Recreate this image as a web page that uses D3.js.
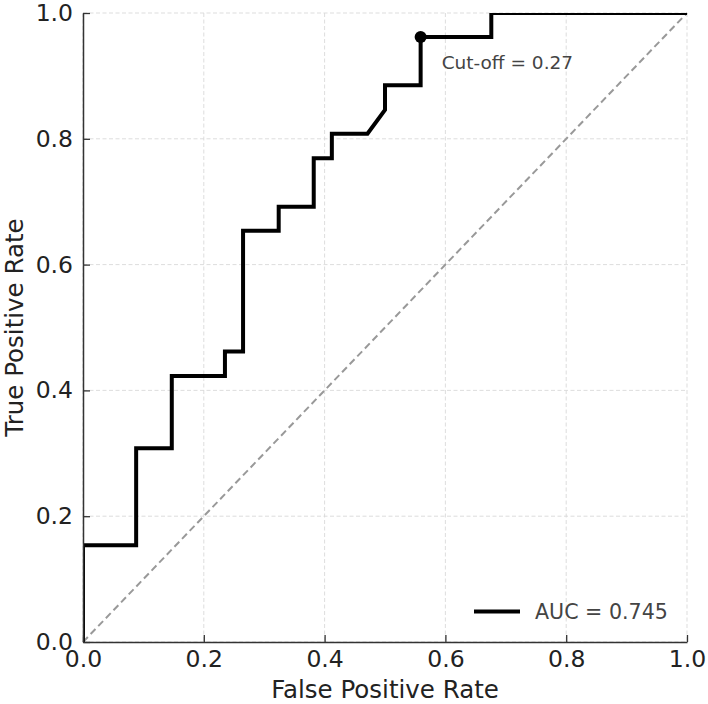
<!DOCTYPE html>
<html>
<head>
<meta charset="utf-8">
<script src="https://cdn.jsdelivr.net/npm/d3@7"></script>
<style>
  html, body { margin: 0; padding: 0; background: #fff; }
  svg { display: block; font-family: "DejaVu Sans", sans-serif; }
</style>
</head>
<body>
<svg id="chart" width="708" height="704"></svg>
<script>
// ROC curve points
const fpr = [0, 0, 0.088, 0.088, 0.147, 0.147, 0.235, 0.235, 0.265, 0.265, 0.324, 0.324, 0.382, 0.382, 0.412, 0.412, 0.471, 0.500, 0.500, 0.559, 0.559, 0.676, 0.676, 1.0];
const tpr = [0, 0.154, 0.154, 0.308, 0.308, 0.423, 0.423, 0.462, 0.462, 0.654, 0.654, 0.692, 0.692, 0.769, 0.769, 0.808, 0.808, 0.846, 0.885, 0.885, 0.962, 0.962, 1.0, 1.0];
const cutoffPoint = [0.559, 0.962];
const cutoffLabel = "Cut-off = 0.27";
const legendLabel = "AUC = 0.745";
const xTicks = [0, 0.2, 0.4, 0.6, 0.8, 1.0];
const yTicks = [0, 0.2, 0.4, 0.6, 0.8, 1.0];
const xLabel = "False Positive Rate";
const yLabel = "True Positive Rate";

const svg = d3.select("#chart");
const L = 83, R = 687, T = 13, B = 642;
const x = d3.scaleLinear().domain([0, 1]).range([L, R]);
const y = d3.scaleLinear().domain([0, 1]).range([B, T]);

svg.append("defs").append("clipPath").attr("id", "clip")
  .append("rect").attr("x", L).attr("y", T).attr("width", R - L).attr("height", B - T);

// grid
const grid = svg.append("g");
grid.selectAll(".gx").data(xTicks).enter().append("line")
  .attr("x1", d => x(d)).attr("x2", d => x(d)).attr("y1", T).attr("y2", B)
  .attr("stroke", "#d9d9d9").attr("stroke-width", 0.9).attr("stroke-dasharray", "4,2.5");
grid.selectAll(".gy").data(yTicks).enter().append("line")
  .attr("y1", d => y(d)).attr("y2", d => y(d)).attr("x1", L).attr("x2", R)
  .attr("stroke", "#d9d9d9").attr("stroke-width", 0.9).attr("stroke-dasharray", "4,2.5");

// diagonal
svg.append("line")
  .attr("x1", x(0)).attr("y1", y(0)).attr("x2", x(1)).attr("y2", y(1))
  .attr("stroke", "#999").attr("stroke-width", 2).attr("stroke-dasharray", "7,4");

// ROC curve
const pts = fpr.map((f, i) => [f, tpr[i]]);
svg.append("path")
  .attr("clip-path", "url(#clip)")
  .attr("d", d3.line().x(d => x(d[0])).y(d => y(d[1]))(pts))
  .attr("fill", "none").attr("stroke", "#000").attr("stroke-width", 4)
  .attr("stroke-linejoin", "miter");

// axes
const xAxis = d3.axisBottom(x).tickValues(xTicks).tickFormat(d3.format(".1f")).tickSizeInner(-7).tickSizeOuter(0).tickPadding(12);
const yAxis = d3.axisLeft(y).tickValues(yTicks).tickFormat(d3.format(".1f")).tickSizeInner(-7).tickSizeOuter(0).tickPadding(12);
const gx = svg.append("g").attr("transform", `translate(0,${B})`).call(xAxis);
const gy = svg.append("g").attr("transform", `translate(${L},0)`).call(yAxis);
[gx, gy].forEach(g => {
  g.select(".domain").attr("stroke", "#333").attr("stroke-width", 1.5);
  g.selectAll(".tick line").attr("stroke", "#333").attr("stroke-width", 1.3);
  g.selectAll(".tick text").attr("fill", "#222").attr("font-size", 23.5).attr("font-family", "DejaVu Sans");
});
gx.selectAll(".tick text").attr("dy", "0.71em").attr("y", 8);
gy.selectAll(".tick text").attr("x", -10);

// cut-off marker
svg.append("circle")
  .attr("cx", x(cutoffPoint[0])).attr("cy", y(cutoffPoint[1])).attr("r", 6).attr("fill", "#000");
svg.append("text")
  .attr("x", x(cutoffPoint[0]) + 21).attr("y", y(cutoffPoint[1]) + 32)
  .attr("font-size", 18.5).attr("fill", "#444").text(cutoffLabel);

// legend
svg.append("line").attr("x1", 474).attr("x2", 520).attr("y1", 611.5).attr("y2", 611.5)
  .attr("stroke", "#000").attr("stroke-width", 4);
svg.append("text").attr("x", 535).attr("y", 618.5)
  .attr("font-size", 20.6).attr("fill", "#444").text(legendLabel);

// axis labels
svg.append("text").attr("x", (L + R) / 2).attr("y", 698)
  .attr("text-anchor", "middle").attr("font-size", 24.5).attr("fill", "#222").text(xLabel);
svg.append("text").attr("transform", `translate(23,${(T + B) / 2}) rotate(-90)`)
  .attr("text-anchor", "middle").attr("font-size", 24.5).attr("fill", "#222").text(yLabel);
</script>
</body>
</html>
